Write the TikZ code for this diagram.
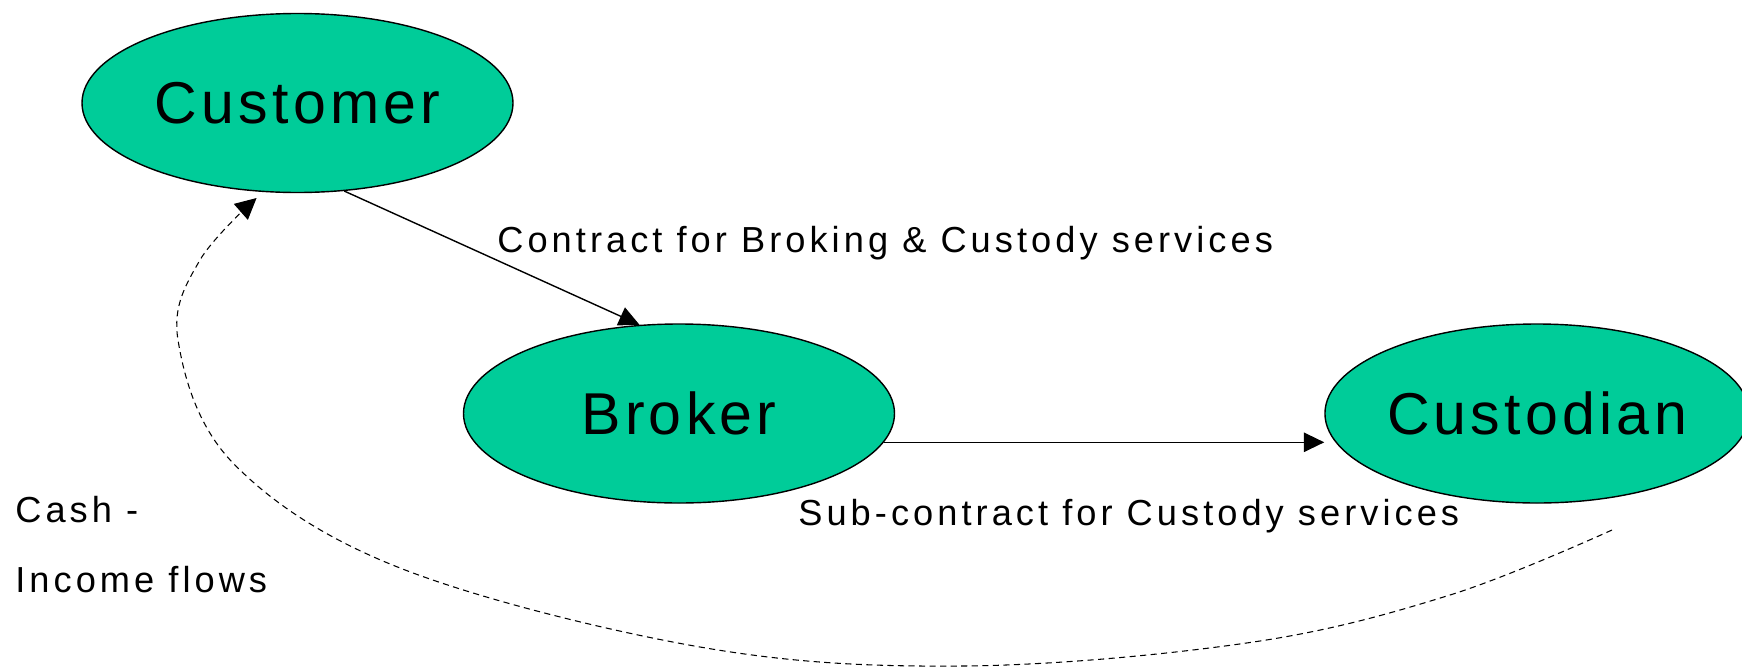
\documentclass[tikz,border=0pt]{standalone}
\usepackage{fontspec}
\setmainfont{Liberation Sans}
\newfontfamily\partyfont[LetterSpace=7.2]{Liberation Sans}
\newfontfamily\flowfont[LetterSpace=11.2]{Liberation Sans}
\usetikzlibrary{arrows.meta,shapes.geometric}
\definecolor{partygreen}{RGB}{0,204,153}
\tikzset{
  party/.style={ellipse, draw, line width=0.8pt, fill=partygreen, inner sep=0pt,
                minimum width=8.62cm, minimum height=3.58cm,
                font=\partyfont\fontsize{33.6}{40}\selectfont},
  deal/.style={line width=0.8pt, -{Triangle[length=4.1mm,width=3.9mm]}},
  cash/.style={line width=0.6pt, dash pattern=on 3.5pt off 2.5pt,
               -{Triangle[length=4.2mm,width=4.2mm]}},
  flowlab/.style={font=\flowfont\fontsize{20.6}{24}\selectfont, inner sep=0pt,
                  anchor=base west},
}

\begin{document}
\begin{tikzpicture}
  \useasboundingbox (0,0) rectangle (34.84,-13.36);
  \node[party] (cust) at (5.95,-2.06) {Customer};
  \node[party] (brok) at (13.58,-8.27) {Broker};
  \node[party, minimum width=8.48cm] (custd) at (30.74,-8.27) {Custodian};
  \draw[deal] (cust.298) -- (brok.114);
  \draw[deal] (brok.-8.5) -- (brok.-8.5 -| custd.west);
  \node[flowlab] (contractlbl) at (9.94,-5.04) {Contract for Broking \& Custody services};
  \node[flowlab] (subcontractlbl) at (15.96,-10.5) {Sub-contract for Custody services};
  \node[flowlab] (cashlbl) at (0.3,-10.44) {Cash -};
  \node[flowlab] (incomelbl) at (0.3,-11.84) {Income flows};
  \coordinate (cashstart) at (32.24,-10.6);
  \draw[cash, shorten >=1.8mm] plot[smooth, tension=0.6] coordinates {(cashstart)
    (29,-11.9) (25,-12.85) (19.26,-13.32) (14,-12.94) (8,-11.36) (4.66,-9.26)
    (3.56,-6.8) (4,-5.2) (cust.249)};
\end{tikzpicture}
\end{document}
